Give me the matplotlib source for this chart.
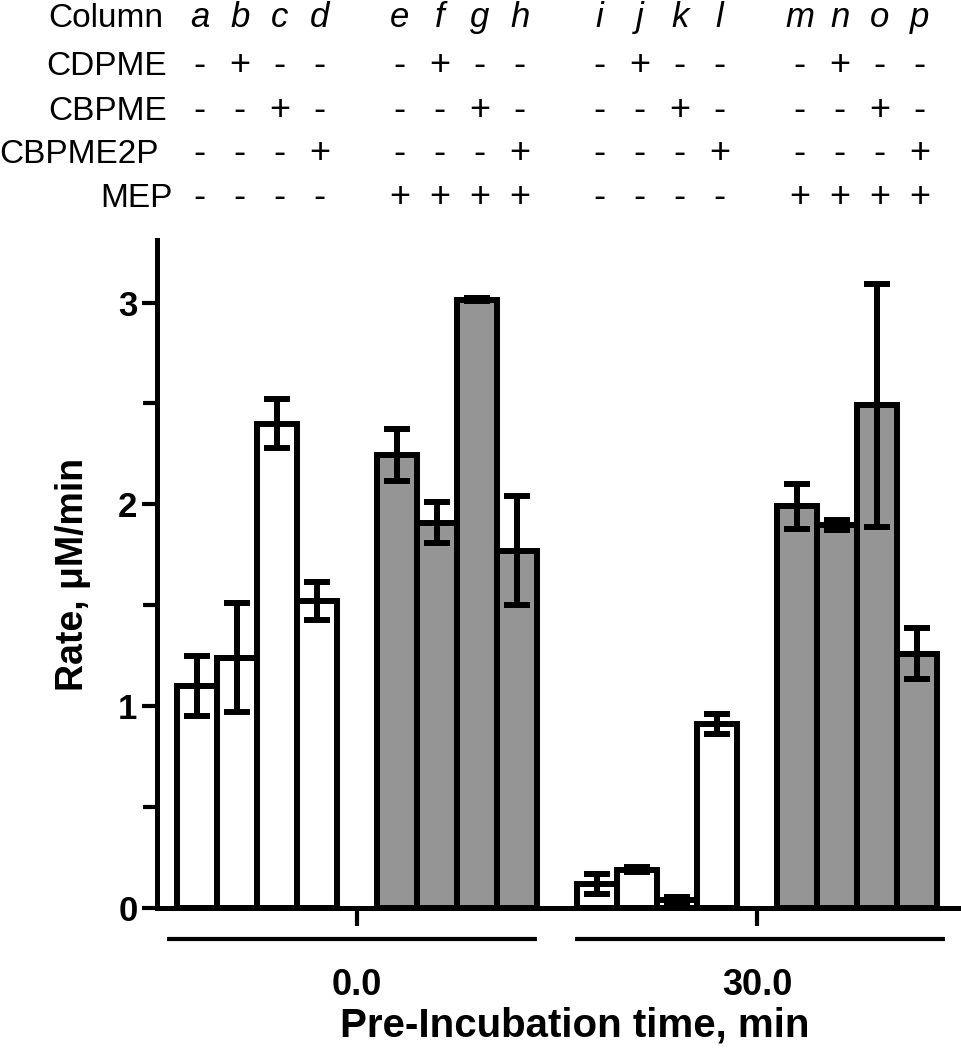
import matplotlib
matplotlib.use('Agg')
import matplotlib.pyplot as plt
import matplotlib.transforms as mtransforms
import numpy as np

plt.rcParams['font.family'] = ['Liberation Sans', 'DejaVu Sans']

# data
columns = list('abcdefghijklmnop')
rate = [1.10, 1.24, 2.40, 1.52, 2.245, 1.91, 3.015, 1.77,
        0.12, 0.19, 0.04, 0.91, 1.99, 1.90, 2.49, 1.26]
rate_err = [0.15, 0.27, 0.12, 0.095, 0.13, 0.10, 0.008, 0.27,
            0.05, 0.012, 0.015, 0.05, 0.11, 0.025, 0.60, 0.125]
additive = ['', 'CDPME', 'CBPME', 'CBPME2P'] * 4
mep = [0, 0, 0, 0, 1, 1, 1, 1] * 2
preinc_times = ['0.0', '30.0']
row_names = ['CDPME', 'CBPME', 'CBPME2P', 'MEP']

GRAY = '#959595'

fig = plt.figure(figsize=(9.62, 10.5), dpi=100)
ax = fig.add_axes([157 / 962, 142 / 1050, 803 / 962, 668 / 1050])

# bar slots: 4 bars, gap, 4 bars per pre-incubation group
slot = np.array([0, 1, 2, 3, 5, 6, 7, 8])
xpos = np.concatenate([slot, slot + 10])
colors = [GRAY if m else 'white' for m in mep]

ax.bar(xpos, rate, width=1.0, color=colors, edgecolor='black',
       linewidth=4.3, zorder=2)
ax.errorbar(xpos, rate, yerr=rate_err, fmt='none', ecolor='black',
            elinewidth=4.3, capsize=9.5, capthick=4.3, zorder=3)

ax.set_xlim(-1.0, 19.075)
ax.set_ylim(0, 3.31)

for side in ['top', 'right']:
    ax.spines[side].set_visible(False)
for side in ['left', 'bottom']:
    ax.spines[side].set_linewidth(3.6)

ax.set_yticks([0, 1, 2, 3])
ax.set_yticks([0.5, 1.5, 2.5], minor=True)
ax.tick_params(axis='y', which='both', length=11, width=3, pad=3, labelsize=25)
ax.tick_params(axis='y', which='minor', length=10)
for lbl in ax.get_yticklabels():
    lbl.set_fontweight('bold')

ax.set_xticks([4, 14])
ax.set_xticklabels(preinc_times, fontsize=26, fontweight='bold')
ax.tick_params(axis='x', length=13, width=3, pad=30)

ax.set_ylabel('Rate, \u03bcM/min', fontsize=27, fontweight='bold', va='center')
ax.yaxis.set_label_coords(-0.1046, 0.5)
ax.set_xlabel('Pre-Incubation time, min', fontsize=29, fontweight='bold')
ax.xaxis.set_label_coords((575 - 157) / 803, -0.148)

# group underlines
tr = ax.get_xaxis_transform()
for x0, x1 in [(-0.75, 8.5), (9.45, 18.7)]:
    ax.plot([x0, x1], [-0.0464, -0.0464], color='black', lw=3,
            transform=tr, clip_on=False, solid_capstyle='butt')

# header table
ftr = mtransforms.blended_transform_factory(ax.transData, fig.transFigure)
baselines = [27, 75, 120, 163, 207]
label_right = [163, 167, 167, 159, 173]
header_names = ['Column'] + row_names
for name, yb, xr in zip(header_names, baselines, label_right):
    fig.text(xr / 962, 1 - yb / 1050, name, ha='right', va='baseline',
             fontsize=24)

for i, col in enumerate(columns):
    x = xpos[i] + 0.07
    ax.text(x, 1 - baselines[0] / 1050, col, transform=ftr, ha='center',
            va='baseline', fontsize=25, fontstyle='italic')
    flags = [additive[i] == r for r in row_names[:3]] + [bool(mep[i])]
    for flag, yb in zip(flags, baselines[1:]):
        ax.text(x, 1 - yb / 1050, '+' if flag else '-', transform=ftr,
                ha='center', va='baseline', fontsize=26)

fig.savefig('out.png', dpi=100)
